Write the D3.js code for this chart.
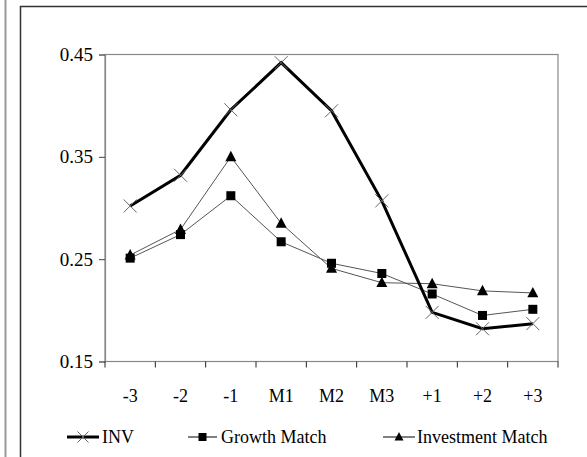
<!DOCTYPE html>
<html><head><meta charset="utf-8">
<script src="https://cdn.jsdelivr.net/npm/d3@7"></script>
<style>body{margin:0;background:#fff}svg{display:block}</style>
</head><body>
<script>
const categories = ["-3","-2","-1","M1","M2","M3","+1","+2","+3"];
const inv = [0.302,0.332,0.396,0.442,0.395,0.307,0.198,0.182,0.187];
const growthMatch = [0.251,0.274,0.312,0.267,0.246,0.236,0.216,0.195,0.201];
const investmentMatch = [0.254,0.279,0.350,0.285,0.241,0.227,0.226,0.219,0.217];
const yTicks = [0.15,0.25,0.35,0.45];
const seriesNames = ["INV","Growth Match","Investment Match"];

const W=587,H=457;
const svg=d3.select("body").append("svg").attr("width",W).attr("height",H);
const font="Liberation Serif, Times New Roman, serif";

// page frame lines
svg.append("line").attr("x1",5.5).attr("x2",5.5).attr("y1",0).attr("y2",H).attr("stroke","#999").attr("stroke-width",2);
svg.append("path").attr("d",`M20.5,${H} V6.5 H${W}`).attr("fill","none").attr("stroke","#333").attr("stroke-width",1.5);

const L=105,R=558,T=54.5,B=361.5;
const x=d3.scaleBand().domain(categories).range([L,R]);
const y=d3.scaleLinear().domain([0.15,0.45]).range([B,T]);

// plot border
svg.append("rect").attr("x",L).attr("y",T).attr("width",R-L).attr("height",B-T).attr("fill","none").attr("stroke","#888").attr("stroke-width",1.2);

const yAxis=svg.append("g").attr("transform",`translate(${L},0)`).call(d3.axisLeft(y).tickValues(yTicks).tickFormat(d3.format(".2f")).tickSize(6).tickPadding(6));
yAxis.select(".domain").attr("stroke","#888").attr("stroke-width",1.2);
yAxis.selectAll(".tick line").attr("stroke","#444");
yAxis.selectAll("text").attr("font-family",font).attr("font-size",19).attr("fill","#000");

const xAxis=svg.append("g").attr("transform",`translate(0,${B})`);
xAxis.append("line").attr("x1",L).attr("x2",R).attr("stroke","#888").attr("stroke-width",1.2);
const bounds=categories.map(c=>x(c)).concat([R]);
xAxis.selectAll("line.tk").data(bounds).join("line").attr("class","tk").attr("x1",d=>d).attr("x2",d=>d).attr("y1",0).attr("y2",6).attr("stroke","#222");
xAxis.selectAll("text").data(categories).join("text").attr("x",d=>x(d)+x.bandwidth()/2).attr("y",40).attr("text-anchor","middle").attr("font-family",font).attr("font-size",18).text(d=>d);

const cx=d=>x(d)+x.bandwidth()/2;
const line=d3.line().x((d,i)=>cx(categories[i])).y(d=>y(d));

function drawX(g,px,py,s){
  g.append("path").attr("d",`M${px-s},${py-s}L${px+s},${py+s}M${px-s},${py+s}L${px+s},${py-s}`).attr("stroke","#666").attr("stroke-width",1).attr("fill","none");
}
function drawSq(g,px,py,s){
  g.append("rect").attr("x",px-s).attr("y",py-s).attr("width",2*s).attr("height",2*s).attr("fill","#000");
}
function drawTri(g,px,py,s){
  g.append("path").attr("d",`M${px},${py-s*1.1}L${px+s},${py+s*0.8}L${px-s},${py+s*0.8}Z`).attr("fill","#000");
}

svg.append("path").datum(investmentMatch).attr("d",line).attr("fill","none").attr("stroke","#555").attr("stroke-width",1);
svg.append("path").datum(growthMatch).attr("d",line).attr("fill","none").attr("stroke","#555").attr("stroke-width",1);
svg.append("path").datum(inv).attr("d",line).attr("fill","none").attr("stroke","#000").attr("stroke-width",3);

const mk=svg.append("g");
investmentMatch.forEach((v,i)=>drawTri(mk,cx(categories[i]),y(v),5.5));
growthMatch.forEach((v,i)=>drawSq(mk,cx(categories[i]),y(v),4.5));
inv.forEach((v,i)=>drawX(mk,cx(categories[i]),y(v),6.5));

// legend
const lg=svg.append("g");
const ly=437;
const items=[
 {x1:67,x2:99,tx:102,w:3,c:"#000",m:drawX,ms:5.5},
 {x1:188,x2:217,tx:221,w:1,c:"#000",m:drawSq,ms:4},
 {x1:383,x2:415,tx:417,w:1,c:"#000",m:drawTri,ms:4.5}
];
items.forEach((it,i)=>{
  lg.append("line").attr("x1",it.x1).attr("x2",it.x2).attr("y1",ly).attr("y2",ly).attr("stroke",it.c).attr("stroke-width",it.w);
  it.m(lg,(it.x1+it.x2)/2,ly,it.ms);
  lg.append("text").attr("x",it.tx).attr("y",ly+6).attr("font-family",font).attr("font-size",18).text(seriesNames[i]);
});
</script>
</body></html>
